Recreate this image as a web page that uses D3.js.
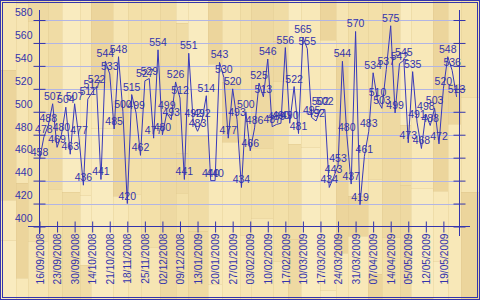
<!DOCTYPE html>
<html>
<head>
<meta charset="utf-8">
<script src="https://cdn.jsdelivr.net/npm/d3@7"></script>
<style>
body { margin: 0; background: #f3e0aa; }
svg { display: block; }
text { font-family: "Liberation Sans", Arial, sans-serif; font-size: 10.5px; fill: #3434ac; }
</style>
</head>
<body>
<script>
// values, one per draw (labels every 4th draw)
const values = [
  458, 478, 488, 507, 469, 480, 504, 463, 507, 477,
  436, 511, 517, 522, 441, 544, 533, 485, 548, 500,
  420, 515, 499, 462, 527, 529, 477, 554, 480, 499,
  493, 526, 512, 441, 551, 492, 483, 492, 514, 440,
  440, 543, 530, 477, 520, 493, 434, 500, 466, 486,
  525, 513, 546, 487, 489, 490, 556, 490, 522, 481,
  565, 555, 495, 492, 502, 502, 434, 443, 453, 544,
  480, 437, 570, 419, 461, 483, 534, 510, 503, 537,
  575, 499, 542, 545, 473, 535, 491, 468, 498, 488,
  503, 472, 520, 548, 536, 513
];

const dateLabels = [
  "16/09/2008", "23/09/2008", "30/09/2008", "14/10/2008", "21/10/2008", "18/11/2008",
  "25/11/2008", "02/12/2008", "09/12/2008", "13/01/2009", "20/01/2009", "27/01/2009",
  "03/02/2009", "10/02/2009", "17/02/2009", "10/03/2009", "17/03/2009", "24/03/2009",
  "31/03/2009", "07/04/2009", "14/04/2009", "05/05/2009", "12/05/2009", "19/05/2009"
];
const labelEvery = 4;
const yTicks = [400, 420, 440, 460, 480, 500, 520, 540, 560, 580];

const W = 480, H = 300;
const blue = "#3434ac";

const svg = d3.select("body").append("svg")
  .attr("width", W)
  .attr("height", H);

// wood background: vertical boards with joints
const boardW = [16, 12, 20, 14, 18, 11, 22, 15, 13, 19];
const shades = ["#f6e5b3", "#eed9a2", "#f9ebbf", "#ecd59c", "#f3e0a9", "#f0dca5", "#f8e8b8"];
const joints = [70, 130, 40, 180, 95, 220, 150, 60, 250, 110, 200];
const wood = svg.append("g");
let bx = 0, bi = 0;
while (bx < W) {
  const bw = boardW[bi % boardW.length];
  let by = -((bi * 37) % 90);
  let si = bi;
  while (by < H) {
    const bh = joints[(bi + si) % joints.length];
    wood.append("rect")
      .attr("x", bx).attr("y", by)
      .attr("width", bw).attr("height", bh)
      .attr("fill", shades[(si * 3 + bi) % shades.length]);
    wood.append("line")
      .attr("x1", bx).attr("x2", bx + bw)
      .attr("y1", by + 0.5).attr("y2", by + 0.5)
      .attr("stroke", "#dcc488").attr("stroke-opacity", 0.35);
    by += bh;
    si++;
  }
  wood.append("line")
    .attr("x1", bx + 0.5).attr("x2", bx + 0.5)
    .attr("y1", 0).attr("y2", H)
    .attr("stroke", "#dcc488").attr("stroke-opacity", 0.3);
  bx += bw;
  bi++;
}

// double frame
svg.append("rect").attr("x", 0.5).attr("y", 0.5).attr("width", W - 1).attr("height", H - 1)
  .attr("fill", "none").attr("stroke", blue);
svg.append("rect").attr("x", 2.5).attr("y", 2.5).attr("width", W - 5).attr("height", H - 5)
  .attr("fill", "none").attr("stroke", blue);

const plotL = 39.5, plotR = 459.5;
const step = 17.56 / labelEvery;
const x = d3.scaleLinear().domain([0, values.length - 1]).range([plotL, plotL + step * (values.length - 1)]);
const y = d3.scaleLinear().domain([400, 580]).range([226.5, 20]);

// grid
svg.append("g").selectAll("line")
  .data(yTicks.filter(d => d > 400))
  .enter()
  .append("line")
  .attr("x1", plotL).attr("x2", plotR)
  .attr("y1", d => Math.round(y(d)) + 0.5)
  .attr("y2", d => Math.round(y(d)) + 0.5)
  .attr("stroke", "#b2b5e4")
  .attr("stroke-width", 1);

// left axis, ticks cross the line
const yAxis = svg.append("g")
  .attr("transform", `translate(${plotL},0)`)
  .call(d3.axisLeft(y).tickValues(yTicks).tickSize(6).tickFormat(d3.format("d")));
yAxis.select(".domain").remove();
yAxis.selectAll(".tick line").attr("x1", -6).attr("x2", 6).attr("stroke", blue);
yAxis.selectAll(".tick text")
  .attr("x", -7).attr("dy", "-0.45em")
  .style("font-family", "\"Liberation Sans\", Arial, sans-serif")
  .style("font-size", "10.5px")
  .attr("fill", blue);
yAxis.append("line").attr("y1", 10).attr("y2", 234).attr("stroke", blue);

// right axis
const yAxisR = svg.append("g")
  .attr("transform", `translate(${plotR},0)`)
  .call(d3.axisRight(y).tickValues(yTicks).tickSize(6).tickFormat(""));
yAxisR.select(".domain").remove();
yAxisR.selectAll(".tick line").attr("x1", -6).attr("x2", 6).attr("stroke", blue);
yAxisR.append("line").attr("y1", 10).attr("y2", 236).attr("stroke", blue);

// bottom axis with dated ticks
const tickIdx = dateLabels.map((d, i) => i * labelEvery);
const xAxis = svg.append("g")
  .attr("transform", `translate(0,${y(400)})`)
  .call(d3.axisBottom(x).tickValues(tickIdx).tickSize(6)
    .tickFormat((d, i) => dateLabels[i]));
xAxis.select(".domain").remove();
xAxis.append("line").attr("x1", 28).attr("x2", 470).attr("stroke", blue);
xAxis.selectAll(".tick line").attr("y1", -5).attr("y2", 6).attr("stroke", blue);
xAxis.selectAll(".tick text")
  .attr("transform", "rotate(-90)")
  .attr("text-anchor", "end")
  .attr("x", -7).attr("y", 0).attr("dy", "0.36em")
  .style("font-family", "\"Liberation Sans\", Arial, sans-serif")
  .style("font-size", "10.2px")
  .attr("fill", blue);

// series line
const line = d3.line()
  .x((d, i) => x(i))
  .y(d => y(d));
svg.append("path")
  .datum(values)
  .attr("d", line)
  .attr("fill", "none")
  .attr("stroke", "#3838b8")
  .attr("stroke-width", 1);

// value labels above every point
svg.append("g").selectAll("text")
  .data(values)
  .enter()
  .append("text")
  .attr("x", (d, i) => x(i))
  .attr("y", d => y(d) - 4)
  .attr("text-anchor", "middle")
  .text(d => d);
</script>
</body>
</html>
